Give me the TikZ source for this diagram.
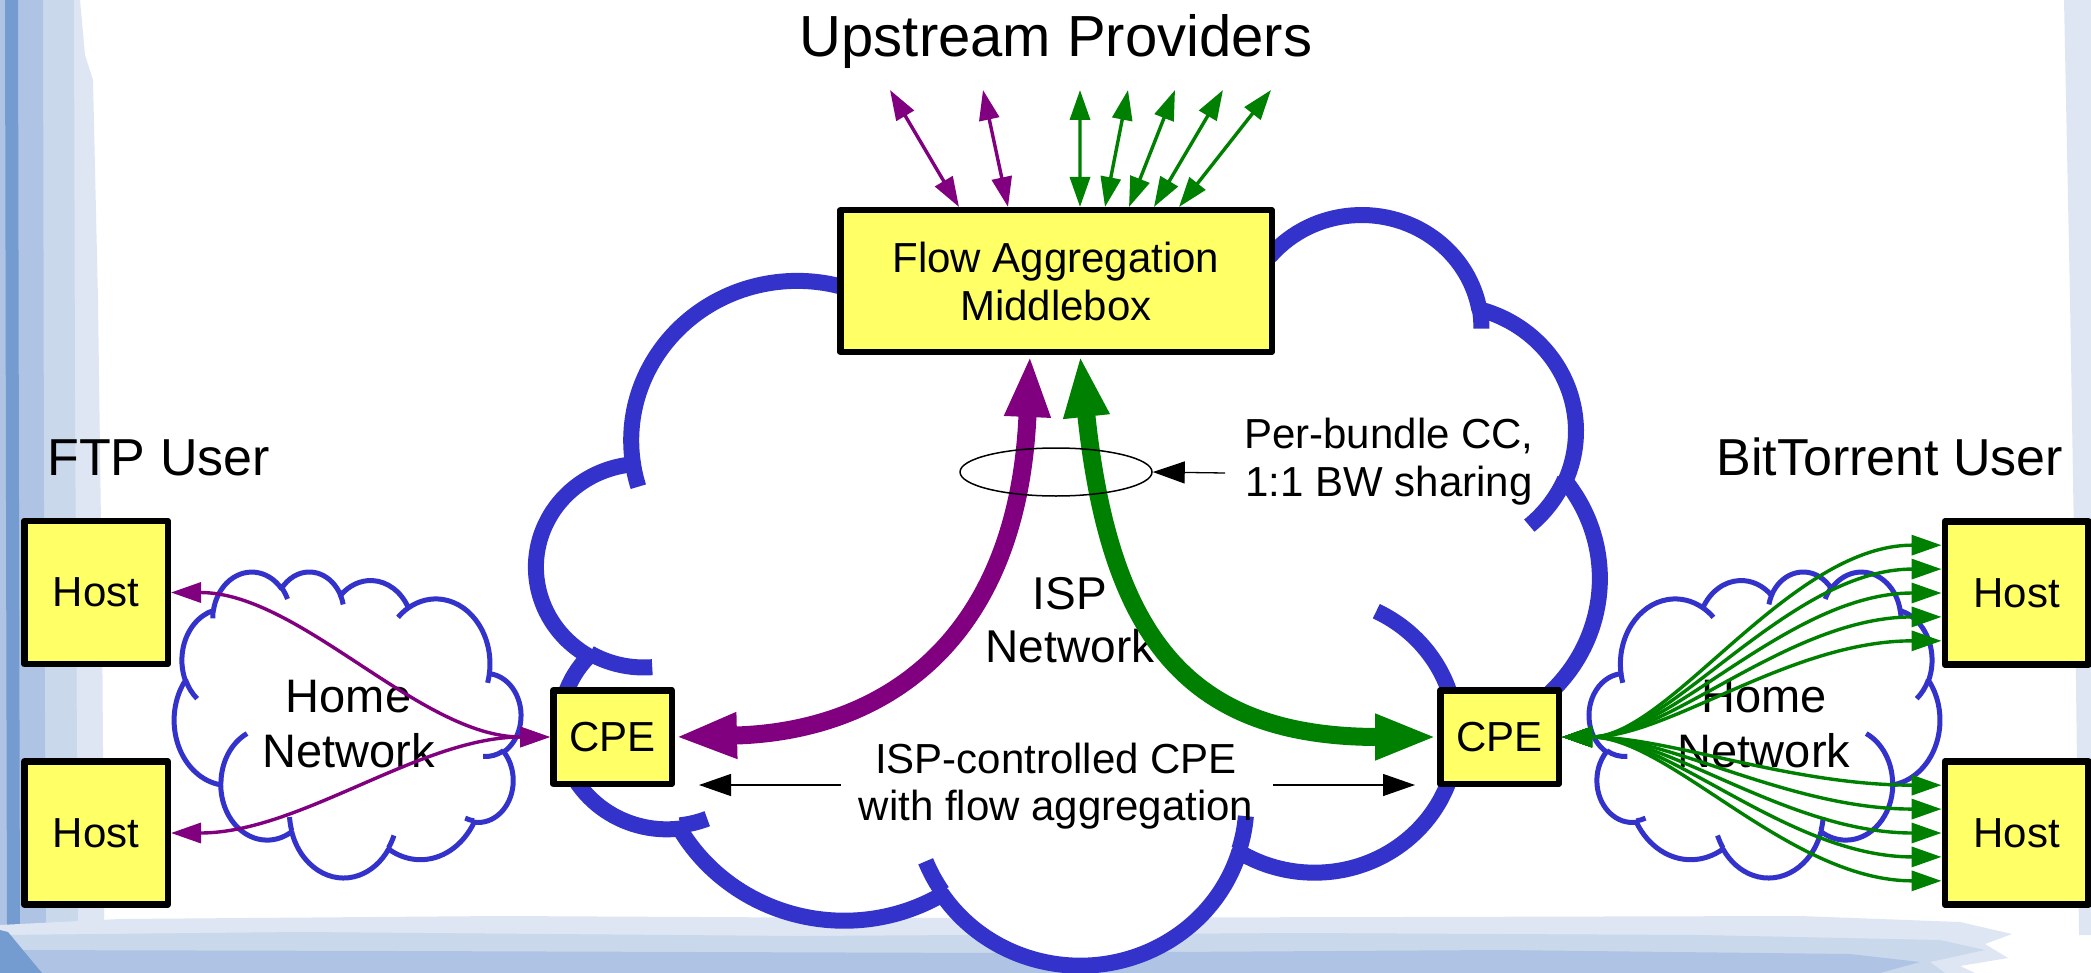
\documentclass[tikz,border=0pt]{standalone}
\usepackage{fontspec}
\setmainfont{Liberation Sans}
\usetikzlibrary{arrows.meta,shapes.geometric,calc}

\definecolor{cloudblue}{RGB}{51,51,204}
\definecolor{boxyellow}{RGB}{255,255,102}
\definecolor{flowpurple}{RGB}{128,0,128}
\definecolor{flowgreen}{RGB}{0,128,0}
\definecolor{frameA}{RGB}{116,156,208}
\definecolor{frameB}{RGB}{175,196,228}
\definecolor{frameC}{RGB}{202,216,236}
\definecolor{frameD}{RGB}{222,230,243}

% One elliptic arc of the cloud outline: tag, x radius, y radius,
% start angle and sweep (angles measured along the ray, turned into
% parametric angles here).
\newcommand\defarc[5]{%
  \pgfmathsetmacro\arcTs{atan2((#2)*sin(#4),(#3)*cos(#4))}%
  \pgfmathsetmacro\arcTe{atan2((#2)*sin((#4)+(#5)),(#3)*cos((#4)+(#5)))}%
  \pgfmathsetmacro\arcTd{mod((\arcTe)-(\arcTs)+720,360)}%
  \expandafter\xdef\csname cloudarc#1\endcsname{arc[x radius=#2, y radius=#3, start angle=\arcTs, delta angle=\arcTd]}%
}
% outline lobes
\defarc{A}{67.53}{91.90}{-190.4875}{123.7805}
\defarc{B}{53.33}{72.67}{-144.1024}{89.9452}
\defarc{C}{43.65}{59.45}{-145.8079}{99.7230}
\defarc{D}{48.57}{65.95}{-130.9861}{117.2417}
\defarc{E}{53.33}{72.73}{-78.7089}{109.0269}
\defarc{F}{67.75}{92.20}{-46.2673}{130.2690}
\defarc{G}{57.85}{78.67}{0.6250}{114.0333}
\defarc{H}{67.52}{92.15}{22.4516}{115.1726}
\defarc{I}{77.20}{105.43}{66.2426}{75.7110}
\defarc{J}{43.60}{59.18}{-274.9421}{146.7356}
\defarc{K}{43.45}{59.45}{-246.8285}{152.5189}
% inner curls
\defarc{a}{43.45}{59.45}{86.7420}{26.4295}
\defarc{b}{43.60}{59.18}{73.6105}{11.4475}
\defarc{c}{67.52}{92.15}{137.6242}{14.0811}
\defarc{d}{67.52}{92.15}{6.4533}{15.9984}
\defarc{e}{57.85}{78.67}{-70.2924}{70.9174}
\defarc{f}{53.33}{72.73}{30.3180}{27.7515}
\defarc{g}{48.57}{65.95}{-13.7443}{14.8589}
\defarc{h}{48.57}{65.95}{-149.1815}{18.1954}
\defarc{i}{43.65}{59.45}{-163.4943}{17.6864}
\defarc{j}{67.53}{91.90}{-66.7070}{12.3194}
\defarc{k}{67.53}{91.90}{157.6544}{11.8582}

% cloud in a 432 x 432 box: origin x, origin y, x scale, y scale, line width
\newcommand\netcloud[5]{%
  \begin{scope}[shift={(#1,#2)},xscale=#3,yscale=#4]
    \filldraw[fill=white,draw=cloudblue,line width=#5,line join=round]
      (39.00,143.70) \cloudarcA \cloudarcB \cloudarcC \cloudarcD \cloudarcE
      \cloudarcF \cloudarcG \cloudarcH \cloudarcI \cloudarcJ \cloudarcK -- cycle;
    \draw[draw=cloudblue,line width=#5]
      (46.93,261.77) \cloudarca (69.28,348.99) \cloudarcb
      (164.78,390.90) \cloudarcc (288.27,347.51) \cloudarcd
      (341.29,229.54) \cloudarce (417.98,153.54) \cloudarcf
      (383.24,54.26) \cloudarcg (290.78,39.52) \cloudarch
      (221.41,47.20) \cloudarci (140.00,51.92) \cloudarcj
      (41.27,157.89) \cloudarck;
  \end{scope}}

\tikzset{
  yellowbox/.style={draw=black, fill=boxyellow, line width=3.25pt, line join=round,
    inner sep=0pt, align=center, font=\fontsize{21pt}{24pt}\selectfont},
  hostbox/.style={yellowbox, minimum width=71.75pt, minimum height=71.5pt},
  cpebox/.style={yellowbox, minimum width=59.25pt, minimum height=46.75pt},
  txt/.style={inner sep=0pt, align=center},
  bigflow/.style={line width=9pt, {Triangle[length=31pt,width=21pt]}-{Triangle[length=31pt,width=21pt]}},
  thinflow/.style={line width=1.7pt, {Triangle[length=15pt,width=10pt]}-{Triangle[length=15pt,width=10pt]}},
  noteptr/.style={line width=0.65pt, -{Triangle[length=16pt,width=11pt]}},
}

\begin{document}
\begin{tikzpicture}[x=0.5pt,y=-0.5pt]
\useasboundingbox (0,0) rectangle (2091,973);
\fill[white] (0,0) rectangle (2091,973);

% slide frame: brushed strips on the left, bottom and right
\fill[frameD] (0,0) -- (80,0) -- (85,55) -- (93,80) -- (98,300) -- (102,600) -- (104,900) -- (104,935) -- (0,940) -- cycle;
\fill[frameC] (0,0) -- (74,0) -- (75,400) -- (78,930) -- (0,935) -- cycle;
\fill[frameB] (0,0) -- (43,0) -- (44,500) -- (46,930) -- (0,935) -- cycle;
\fill[frameA] (5,0) -- (18,0) -- (19,500) -- (20,940) -- (7,940) -- (6,500) -- cycle;
\fill[frameD] (0,973) -- (0,925) -- (120,919) -- (500,916) -- (900,918) -- (1400,917) -- (1800,916) -- (1960,922) -- (2012,934) -- (1985,944) -- (2008,958) -- (1960,966) -- (1975,973) -- cycle;
\fill[frameC] (0,973) -- (0,935) -- (300,932) -- (800,936) -- (1300,933) -- (1700,935) -- (1940,940) -- (1985,950) -- (1930,962) -- (1945,973) -- cycle;
\fill[frameB] (0,973) -- (0,950) -- (400,951) -- (1000,953) -- (1500,950) -- (1850,954) -- (1920,962) -- (1880,973) -- cycle;
\fill[frameA] (0,930) -- (8,932) -- (42,973) -- (0,973) -- cycle;
\fill[frameD] (2064,0) -- (2091,0) -- (2091,935) -- (2079,935) -- (2075,600) -- (2070,300) -- cycle;

% networks
\netcloud{536.8}{212.4}{2.4597}{1.7373}{8pt}
\netcloud{520.75}{571}{-0.80208}{0.70810}{2.5pt}
\netcloud{1589.25}{571}{0.81143}{0.70810}{2.5pt}

% labels
\node[txt, font=\fontsize{29pt}{34pt}\selectfont, anchor=base] (upl) at (1056,57) {Upstream Providers};
\node[txt, font=\fontsize{26pt}{31pt}\selectfont, anchor=base west] (ftp) at (47,475) {FTP User};
\node[txt, font=\fontsize{26pt}{31pt}\selectfont, anchor=base west] (btu) at (1716,475) {BitTorrent User};
\node[txt, font=\fontsize{23.5pt}{27.5pt}\selectfont] (homeL) at (348.5,723.7) {Home\\Network};
\node[txt, font=\fontsize{23.5pt}{27.5pt}\selectfont] (homeR) at (1764,723.7) {Home\\Network};
\node[txt, font=\fontsize{23pt}{26.5pt}\selectfont] (isp) at (1070,620) {ISP\\Network};
\node[txt, font=\fontsize{21pt}{23.75pt}\selectfont] (pbl) at (1389,461.6) {Per-bundle CC,\\1:1 BW sharing};
\node[txt, font=\fontsize{21pt}{23.5pt}\selectfont] (ctl) at (1056,785.9) {ISP-controlled CPE\\with flow aggregation};

% devices
\node[yellowbox, minimum width=215.75pt, minimum height=70.75pt] (mb) at (1056,281) {Flow Aggregation\\Middlebox};
\node[cpebox] (cpeL) at (612.5,737) {CPE};
\node[cpebox] (cpeR) at (1499.5,737) {CPE};
\node[hostbox] (h1) at (96,592.5) {Host};
\node[hostbox] (h2) at (96,833) {Host};
\node[hostbox] (h3) at (2016.5,593) {Host};
\node[hostbox] (h4) at (2016.5,833) {Host};

% flows towards the upstream providers
\coordinate (up1) at (890,90);
\coordinate (up2) at (983,90);
\coordinate (up3) at (1080,90);
\coordinate (up4) at (1128,90);
\coordinate (up5) at (1175,90);
\coordinate (up6) at (1223,90);
\coordinate (up7) at (1271,90);
\draw[thinflow, color=flowpurple] (up1) -- ($(mb.north west)!0.2785!(mb.north east)$);
\draw[thinflow, color=flowpurple] (up2) -- ($(mb.north west)!0.3904!(mb.north east)$);
\draw[thinflow, color=flowgreen] (up3) -- ($(mb.north west)!0.5548!(mb.north east)$);
\draw[thinflow, color=flowgreen] (up4) -- ($(mb.north west)!0.6119!(mb.north east)$);
\draw[thinflow, color=flowgreen] (up5) -- ($(mb.north west)!0.6667!(mb.north east)$);
\draw[thinflow, color=flowgreen] (up6) -- ($(mb.north west)!0.7237!(mb.north east)$);
\draw[thinflow, color=flowgreen] (up7) -- ($(mb.north west)!0.7808!(mb.north east)$);

% aggregated bundles through the ISP network
\coordinate (mbp) at ($(mb.south west)!0.4406!(mb.south east)$);
\coordinate (mbg) at ($(mb.south west)!0.5548!(mb.south east)$);
\draw[bigflow, color=flowpurple] (mbp) .. controls (1018,645) and (880,732) .. (cpeL.east);
\draw[bigflow, color=flowgreen] (mbg) .. controls (1110,640) and (1190,737) .. (cpeR.west);

% flows inside the home networks
\draw[thinflow, color=flowpurple] (h1.east) .. controls +(129,0) and +(-130,0) .. (cpeL.west);
\draw[thinflow, color=flowpurple] (h2.east) .. controls +(129,0) and +(-130,0) .. (cpeL.west);
\foreach \h in {h3,h4}{
  \foreach \f in {0.18,0.34,0.5,0.66,0.82}{
    \coordinate (fanend) at ($(\h.north west)!\f!(\h.south west)$);
    \draw[thinflow, color=flowgreen] (cpeR.east) .. controls +(107,0) and +(-152,0) .. (fanend);
  }
}

% annotations
\node[ellipse, draw, line width=0.75pt, minimum width=96pt, minimum height=24pt, inner sep=0pt] (bundle) at (1056,472) {};
\coordinate (pbtail) at (1225,473);
\draw[noteptr] (pbtail) -- (bundle.east);
\coordinate (ctlL) at (841,785);
\coordinate (ctlR) at (1273,785);
\draw[noteptr, shorten >=12pt] (ctlL) -- (ctlL -| cpeL.east);
\draw[noteptr, shorten >=11pt] (ctlR) -- (ctlR -| cpeR.west);
\end{tikzpicture}
\end{document}
